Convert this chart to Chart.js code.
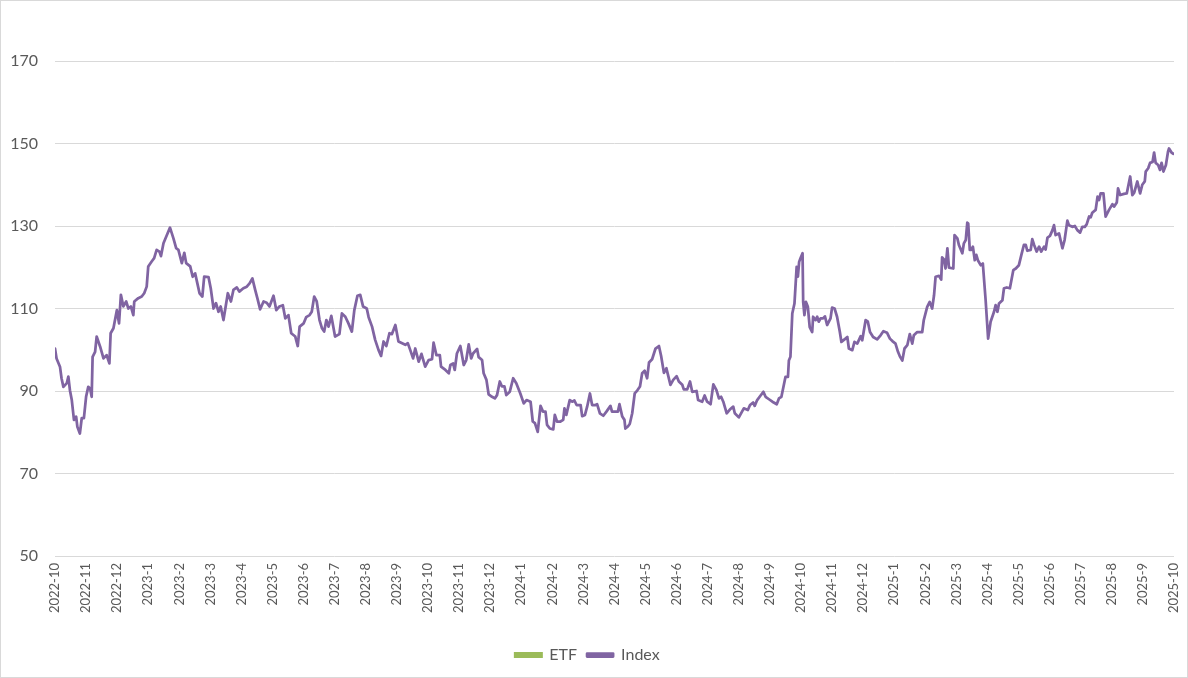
<!DOCTYPE html>
<html>
<head>
<meta charset="utf-8">
<script src="https://cdn.jsdelivr.net/npm/chart.js@4.4.1/dist/chart.umd.min.js"></script>
<style>
  html, body { margin: 0; padding: 0; background: #fff; }
  #wrap { width: 1188px; height: 678px; box-sizing: border-box; border: 1px solid #d9d9d9; }
</style>
</head>
<body>
<div id="wrap"><canvas id="c"></canvas></div>
<script>
// month labels, one per tick (0 = 2022-10)
var monthLabels = [
  '2022-10', '2022-11', '2022-12',
  '2023-1', '2023-2', '2023-3', '2023-4', '2023-5', '2023-6', '2023-7', '2023-8', '2023-9', '2023-10', '2023-11', '2023-12',
  '2024-1', '2024-2', '2024-3', '2024-4', '2024-5', '2024-6', '2024-7', '2024-8', '2024-9', '2024-10', '2024-11', '2024-12',
  '2025-1', '2025-2', '2025-3', '2025-4', '2025-5', '2025-6', '2025-7', '2025-8', '2025-9', '2025-10'
];

// time of each reading, in months after 2022-10
var monthPos = [
  0.00, 0.05, 0.16, 0.21, 0.27, 0.38, 0.43, 0.48, 0.54, 0.61, 0.68, 0.72, 0.80, 0.86, 0.93,
  1.00, 1.07, 1.13, 1.18, 1.21, 1.29, 1.34, 1.45, 1.56, 1.66, 1.75, 1.79, 1.88, 1.99,
  2.06, 2.12, 2.20, 2.29, 2.36, 2.44, 2.52, 2.55, 2.68, 2.79, 2.87, 2.95,
  3.00, 3.11, 3.19, 3.27, 3.36, 3.41, 3.49, 3.60, 3.70, 3.81, 3.90, 3.97,
  4.08, 4.16, 4.22, 4.35, 4.43, 4.51, 4.58, 4.65, 4.74, 4.80, 4.94,
  5.01, 5.10, 5.18, 5.26, 5.33, 5.42, 5.56, 5.66, 5.74, 5.85, 5.93,
  6.06, 6.17, 6.26, 6.35, 6.44, 6.51, 6.60, 6.71, 6.81, 6.90,
  7.03, 7.12, 7.22, 7.33, 7.41, 7.51, 7.60, 7.73, 7.81, 7.87,
  8.00, 8.08, 8.19, 8.26, 8.34, 8.42, 8.51, 8.59, 8.66, 8.73, 8.80, 8.89,
  9.01, 9.15, 9.23, 9.34, 9.44, 9.55, 9.63, 9.73, 9.82, 9.91,
  10.03, 10.09, 10.20, 10.30, 10.41, 10.49, 10.57, 10.66, 10.76, 10.84, 10.95,
  11.05, 11.27, 11.35, 11.43, 11.52, 11.59, 11.70, 11.79, 11.91,
  12.02, 12.13, 12.18, 12.27, 12.38, 12.42, 12.56, 12.67, 12.72, 12.81, 12.86, 12.93,
  13.04, 13.15, 13.23, 13.31, 13.39, 13.45, 13.58, 13.63, 13.74, 13.79, 13.88, 13.95,
  14.06, 14.15, 14.22, 14.31, 14.38, 14.46, 14.52, 14.63, 14.74, 14.84, 14.97,
  15.08, 15.17, 15.30, 15.37, 15.44, 15.53, 15.62, 15.70, 15.78, 15.83, 15.92,
  16.03, 16.08, 16.15, 16.26, 16.35, 16.39, 16.45, 16.56, 16.64, 16.71, 16.78, 16.91, 16.96,
  17.05, 17.12, 17.21, 17.28, 17.39, 17.44, 17.53, 17.64, 17.74, 17.87, 17.92,
  18.03, 18.11, 18.16, 18.25, 18.32, 18.35, 18.43, 18.49, 18.57, 18.65, 18.73, 18.82, 18.89, 18.97,
  19.05, 19.11, 19.21, 19.32, 19.43, 19.50, 19.59, 19.67, 19.80, 19.89,
  20.00, 20.07, 20.18, 20.23, 20.34, 20.43, 20.50, 20.64, 20.69, 20.82, 20.90, 20.98,
  21.09, 21.18, 21.28, 21.36, 21.43, 21.50, 21.61, 21.71, 21.82, 21.87,
  22.00, 22.08, 22.16, 22.29, 22.36, 22.46, 22.51, 22.59, 22.70, 22.79, 22.86, 22.97,
  23.08, 23.22, 23.29, 23.37, 23.50, 23.58, 23.61, 23.66, 23.72, 23.79, 23.86, 23.90, 23.94, 23.98,
  24.05, 24.07, 24.11, 24.16, 24.22, 24.28, 24.36, 24.39, 24.47, 24.52, 24.57, 24.63, 24.71, 24.77, 24.84, 24.95,
  25.00, 25.08, 25.16, 25.25, 25.30, 25.43, 25.49, 25.54, 25.65, 25.72, 25.81, 25.92, 25.97,
  26.08, 26.15, 26.22, 26.32, 26.45, 26.56, 26.65, 26.77, 26.86, 26.94,
  27.04, 27.12, 27.18, 27.26, 27.33, 27.42, 27.50, 27.58, 27.63, 27.74, 27.90, 27.95,
  28.06, 28.14, 28.22, 28.28, 28.33, 28.44, 28.51, 28.54, 28.60, 28.65, 28.71, 28.76, 28.90, 28.94,
  29.03, 29.08, 29.19, 29.24, 29.30, 29.35, 29.38, 29.43, 29.48, 29.53, 29.59, 29.64, 29.69, 29.78, 29.85, 29.94,
  30.02, 30.10, 30.21, 30.26, 30.32, 30.37, 30.48, 30.53, 30.62, 30.72, 30.83, 30.91,
  31.01, 31.09, 31.17, 31.23, 31.28, 31.39, 31.44, 31.50, 31.58, 31.66, 31.73, 31.82, 31.87, 31.93,
  32.01, 32.09, 32.14, 32.19, 32.30, 32.41, 32.48, 32.57, 32.62, 32.73, 32.81, 32.89, 32.98,
  33.05, 33.13, 33.19, 33.27, 33.32, 33.37, 33.48, 33.54, 33.59, 33.64, 33.73, 33.80, 33.91,
  34.02, 34.07, 34.16, 34.20, 34.27, 34.39, 34.48, 34.59, 34.66, 34.72, 34.82, 34.91, 34.98,
  35.06, 35.09, 35.17, 35.23, 35.31, 35.36, 35.41, 35.49, 35.55, 35.60, 35.66, 35.74, 35.81, 35.84, 35.92, 35.98
];

// Index level at each reading
var indexValues = [
  100.3, 97.9, 95.9, 93.1, 91.0, 91.9, 93.5, 90.2, 87.8, 83.0, 83.8, 81.3, 79.7, 83.4, 83.4,
  88.6, 91.0, 90.6, 88.6, 98.3, 99.5, 103.2, 100.8, 97.9, 98.7, 96.7, 104.0, 105.2, 109.6,
  106.4, 113.3, 110.5, 111.7, 110.0, 110.5, 108.4, 111.7, 112.5, 112.9, 113.7, 115.3,
  120.2, 121.4, 122.2, 124.2, 123.8, 122.7, 125.8, 127.8, 129.6, 127.0, 124.6, 124.2,
  121.0, 123.5, 121.0, 120.2, 117.7, 118.5, 116.1, 113.7, 112.9, 117.7, 117.6,
  114.9, 110.0, 111.3, 109.2, 110.5, 107.2, 113.7, 111.7, 114.5, 115.1, 114.1,
  114.9, 115.3, 116.1, 117.3, 114.5, 112.5, 109.8, 111.7, 111.4, 110.5,
  113.1, 109.6, 110.5, 110.8, 107.6, 108.4, 104.0, 103.2, 100.9, 105.6,
  106.4, 107.9, 108.4, 109.2, 112.9, 111.7, 107.2, 105.2, 104.4, 107.2, 105.6, 108.2,
  103.2, 103.8, 108.8, 108.0, 106.4, 104.4, 109.6, 113.1, 113.3, 110.5,
  110.0, 107.9, 105.6, 102.4, 99.9, 98.5, 102.0, 100.9, 104.0, 103.8, 106.0,
  102.0, 101.2, 101.6, 99.9, 97.9, 100.3, 97.1, 99.0, 95.9,
  97.5, 97.7, 101.7, 98.7, 98.7, 95.9, 95.1, 94.3, 96.3, 96.7, 95.1, 99.1,
  100.9, 96.3, 97.5, 101.3, 97.9, 99.1, 100.2, 98.2, 97.5, 94.3, 92.7, 89.2,
  88.6, 88.2, 89.0, 92.3, 91.1, 91.1, 89.0, 89.8, 93.1, 91.9, 89.4,
  87.0, 87.8, 87.4, 82.6, 82.2, 80.1, 86.4, 85.0, 85.0, 81.8, 80.9,
  80.7, 84.2, 82.6, 82.6, 83.0, 85.8, 84.2, 87.8, 87.4, 87.7, 86.6, 86.6, 83.9,
  84.2, 86.2, 89.4, 86.6, 86.6, 86.8, 84.6, 84.0, 85.0, 86.4, 85.0,
  85.0, 85.0, 86.8, 83.8, 83.0, 80.9, 81.4, 82.0, 84.6, 89.4, 90.1, 91.1, 94.3, 94.9,
  93.1, 96.9, 97.7, 100.3, 100.9, 98.5, 94.4, 95.5, 91.5, 92.7,
  93.6, 92.3, 91.5, 90.4, 90.4, 92.3, 89.8, 90.0, 87.8, 87.4, 88.9, 87.4,
  86.8, 91.6, 90.2, 88.2, 88.6, 87.4, 84.6, 85.5, 86.2, 84.6,
  83.6, 84.7, 85.8, 85.4, 86.6, 87.2, 86.4, 87.8, 88.9, 89.8, 88.6, 88.0,
  87.4, 86.8, 88.2, 88.6, 93.4, 93.4, 97.4, 98.3, 108.8, 111.2, 120.1, 117.7, 121.3, 122.1,
  123.4, 111.6, 108.4, 111.6, 110.4, 105.5, 104.3, 108.0, 107.2, 108.0, 106.8, 107.6, 107.6, 108.1, 106.0, 107.6,
  110.2, 110.0, 108.0, 104.3, 101.9, 102.7, 103.1, 100.3, 99.9, 101.9, 101.5, 103.3, 102.3,
  107.2, 106.8, 104.3, 103.1, 102.5, 103.5, 104.5, 104.1, 102.7, 102.1,
  101.5, 99.5, 98.4, 97.4, 100.3, 101.1, 103.8, 101.5, 103.5, 104.3, 104.3, 107.2,
  110.4, 111.6, 110.0, 113.2, 117.7, 117.9, 117.0, 122.4, 121.9, 119.7, 124.6, 119.9, 119.7, 127.8,
  127.0, 125.4, 123.4, 125.8, 126.6, 130.8, 130.6, 124.2, 124.2, 125.0, 121.7, 123.0, 121.7, 120.5, 120.9, 112.0,
  102.7, 106.8, 109.2, 110.8, 109.2, 111.2, 112.0, 114.9, 115.1, 114.9, 119.3, 119.7,
  120.5, 123.0, 125.4, 125.4, 124.0, 124.2, 126.8, 125.4, 123.8, 125.0, 123.8, 125.0, 124.3, 127.2,
  127.6, 129.0, 130.2, 127.8, 128.2, 124.6, 126.6, 131.3, 130.2, 129.8, 130.0, 129.0, 128.4,
  129.8, 129.8, 130.4, 132.3, 132.1, 133.2, 133.9, 137.1, 136.3, 137.9, 137.9, 132.3, 133.9,
  135.3, 134.7, 135.7, 139.1, 137.5, 137.8, 137.9, 142.0, 137.5, 138.1, 140.8, 137.9, 140.0,
  140.8, 143.2, 144.0, 145.3, 145.5, 147.8, 145.3, 144.8, 143.6, 145.3, 143.2, 144.8, 148.1, 148.8, 147.8, 147.5
];

// ETF line sits under the Index line, nothing of it shows
var etfValues = [];

var yTicks = [50, 70, 90, 110, 130, 150, 170];

var FONT = { family: 'Lato, "Open Sans", sans-serif', size: 16 };
var XFONT = { family: 'Lato, "Open Sans", sans-serif', size: 13 };
var TEXT = '#595959';

function points(xs, ys) {
  var out = [];
  for (var i = 0; i < ys.length; i++) out.push({ x: xs[i], y: ys[i] });
  return out;
}

new Chart(document.getElementById('c').getContext('2d'), {
  type: 'line',
  data: {
    datasets: [
      {
        label: 'ETF',
        data: points(monthPos, etfValues),
        borderColor: '#9bbb59',
        backgroundColor: '#9bbb59',
        borderWidth: 3,
        pointRadius: 0
      },
      {
        label: 'Index',
        data: points(monthPos, indexValues),
        borderColor: '#8064a2',
        backgroundColor: '#8064a2',
        borderWidth: 2.75,
        pointRadius: 0,
        tension: 0,
        borderJoinStyle: 'round',
        borderCapStyle: 'round'
      }
    ]
  },
  options: {
    responsive: true,
    maintainAspectRatio: false,
    animation: false,
    layout: { padding: { top: 60, right: 13, bottom: 4, left: 0 } },
    plugins: {
      tooltip: { enabled: false },
      legend: {
        position: 'bottom',
        labels: { color: TEXT, font: FONT, boxWidth: 26, boxHeight: 3, padding: 10 }
      }
    },
    scales: {
      x: {
        type: 'linear',
        min: 0,
        max: monthLabels.length - 1,
        afterFit: function (s) {
          s.height = 81;
          s.paddingLeft = 0;
          s.paddingRight = 0;
        },
        grid: { display: false, drawTicks: false },
        border: { display: false },
        ticks: {
          stepSize: 1,
          autoSkip: false,
          maxRotation: 90,
          minRotation: 90,
          padding: 7,
          color: TEXT,
          font: XFONT,
          callback: function (v) { return monthLabels[v]; }
        }
      },
      y: {
        min: yTicks[0],
        max: yTicks[yTicks.length - 1],
        afterFit: function (s) { s.width = 54; },
        afterBuildTicks: function (s) { s.ticks = yTicks.map(function (v) { return { value: v }; }); },
        grid: { color: '#d9d9d9', lineWidth: 1, drawTicks: false },
        border: { display: false },
        ticks: { padding: 17, color: TEXT, font: FONT }
      }
    }
  }
});
</script>
</body>
</html>
